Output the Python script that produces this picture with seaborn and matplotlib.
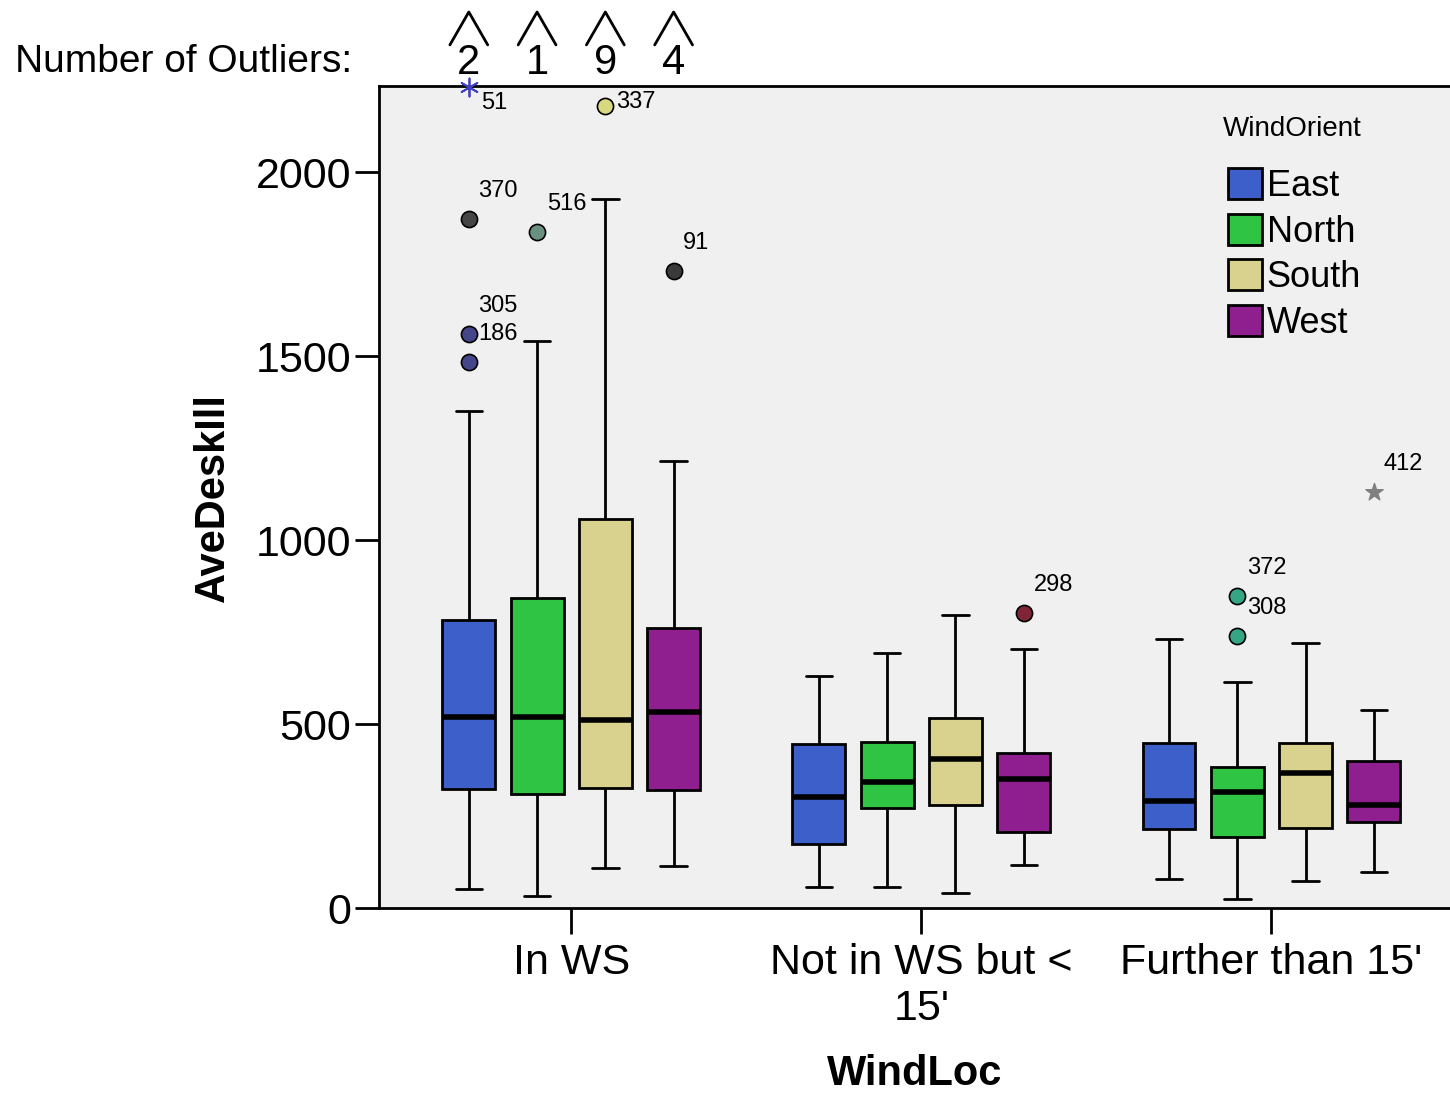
import numpy as np
import pandas as pd
import matplotlib.pyplot as plt
import seaborn as sns

# categories
windloc = ["In WS", "Not in WS but <\n15'", "Further than 15'"]
orient = ["East", "North", "South", "West"]

# five-number summaries, one per box (WindLoc major, WindOrient minor)
low = [52, 33, 109, 114, 57, 57, 41, 117, 79, 24, 73, 98]
q1 = [323, 310, 326, 321, 174, 272, 280, 207, 215, 193, 217, 234]
med = [519, 519, 511, 533, 302, 342, 405, 351, 291, 315, 367, 280]
q3 = [783, 842, 1057, 761, 446, 451, 516, 421, 448, 383, 448, 399]
high = [1351, 1541, 1927, 1215, 630, 693, 796, 704, 731, 614, 720, 538]

# labelled outliers
out_loc = [0, 0, 0, 0, 0, 0, 0, 1, 2, 2, 2]
out_orient = [0, 0, 0, 0, 1, 2, 3, 3, 1, 1, 3]
out_val = [2230, 1872, 1560, 1484, 1837, 2179, 1731, 802, 848, 739, 1130]
out_id = ["51", "370", "305", "186", "516", "337", "91", "298", "372", "308", "412"]
out_color = ["#4040c0", "#454545", "#45458a", "#45458a", "#6a9080", "#d8d880",
             "#3a3a3a", "#802535", "#35a585", "#35a585", "#808080"]
out_marker = ["ast", "o", "o", "o", "o", "o", "o", "o", "o", "o", "*"]

# outliers off the top of the scale (In WS group)
n_off = [2, 1, 9, 4]

palette = ["#3c5fc9", "#2fc444", "#d9d28e", "#8f1f8e"]

# long table: the five summary values per box, seaborn recomputes the same stats
rows = []
for i, vals in enumerate(zip(low, q1, med, q3, high)):
    for v in vals:
        rows.append((windloc[i // 4], orient[i % 4], v))
df = pd.DataFrame(rows, columns=["WindLoc", "WindOrient", "AveDeskIll"])

sns.set_theme(style="white")
plt.rcParams['font.family'] = ['Liberation Sans', 'DejaVu Sans']
plt.rcParams['axes.facecolor'] = '#f0f0f0'
for k in ['text.color', 'axes.labelcolor', 'xtick.color', 'ytick.color']:
    plt.rcParams[k] = 'black'

fig = plt.figure(figsize=(14.5, 10.95), dpi=100)
ax = fig.add_axes([379 / 1450, 187 / 1095, 1071 / 1450, 822 / 1095])

width = 0.78
sns.boxplot(data=df, x="WindLoc", y="AveDeskIll", hue="WindOrient",
            order=windloc, hue_order=orient, palette=palette, saturation=1,
            width=width, gap=0.225, whis=(0, 100), linecolor="black",
            linewidth=2, medianprops={"linewidth": 4}, ax=ax)

offsets = (np.arange(4) - 1.5) * width / 4

# outliers with case labels
for loc, o, v, lab, col, m in zip(out_loc, out_orient, out_val, out_id, out_color, out_marker):
    x = loc + offsets[o]
    if m == "ast":
        ax.scatter(x, v, s=170, marker=(6, 2, 0), color=col, linewidths=1.3,
                   zorder=6, clip_on=False)
    elif m == "*":
        ax.scatter(x, v, s=170, marker="*", color=col, edgecolors=col,
                   zorder=6, clip_on=False)
    else:
        ax.scatter(x, v, s=135, marker="o", color=col, edgecolors="black",
                   linewidths=1.2, zorder=6, clip_on=False)
    dx, dy = 7, 20
    if lab == "337":
        dx, dy = 8, 3
    elif lab == "51":
        dx, dy = 9, -11
    ax.annotate(lab, (x, v), xytext=(dx, dy), textcoords="offset points",
                fontsize=17, ha="left", va="center", zorder=7)

# "Number of Outliers" header with carets
trans = ax.get_xaxis_transform()
fig.text(15 / 1450, 1 - 62 / 1095, "Number of Outliers:", fontsize=28,
         ha="left", va="center")
for o, n in enumerate(n_off):
    x = offsets[o]
    ax.text(x, 1.028, str(n), transform=trans, fontsize=30, ha="center", va="center")
    ax.plot([x - 0.054, x, x + 0.054], [1.05, 1.09, 1.05], transform=trans,
            color="black", lw=2, clip_on=False)

ax.set_xlim(-0.549, 2.51)
ax.set_ylim(0, 2234)
ax.set_yticks([0, 500, 1000, 1500, 2000])
ax.set_xlabel("WindLoc", fontsize=30, fontweight="bold", labelpad=18)
ax.set_ylabel("AveDeskIll", fontsize=30, fontweight="bold", labelpad=16)
ax.tick_params(axis="y", labelsize=31, length=17, width=2, left=True, pad=3)
ax.tick_params(axis="x", labelsize=31, length=19, width=2, bottom=True, pad=6)
for s in ["left", "bottom", "top"]:
    ax.spines[s].set_color("black")
    ax.spines[s].set_linewidth(2)
ax.spines["right"].set_visible(False)

# legend: title as separate text so the gap below it matches
ax.text(0.788, 0.948, "WindOrient", transform=ax.transAxes, fontsize=20,
        ha="left", va="center")
leg = ax.legend(loc="upper left", bbox_to_anchor=(0.793, 0.900),
                frameon=False, fontsize=26, handlelength=0.94,
                handleheight=0.94, handletextpad=0.12, labelspacing=0.27,
                borderpad=0, borderaxespad=0)
for h in leg.legend_handles:
    h.set_edgecolor("black")
    h.set_linewidth(2)

fig.savefig("out.png", dpi=100)
